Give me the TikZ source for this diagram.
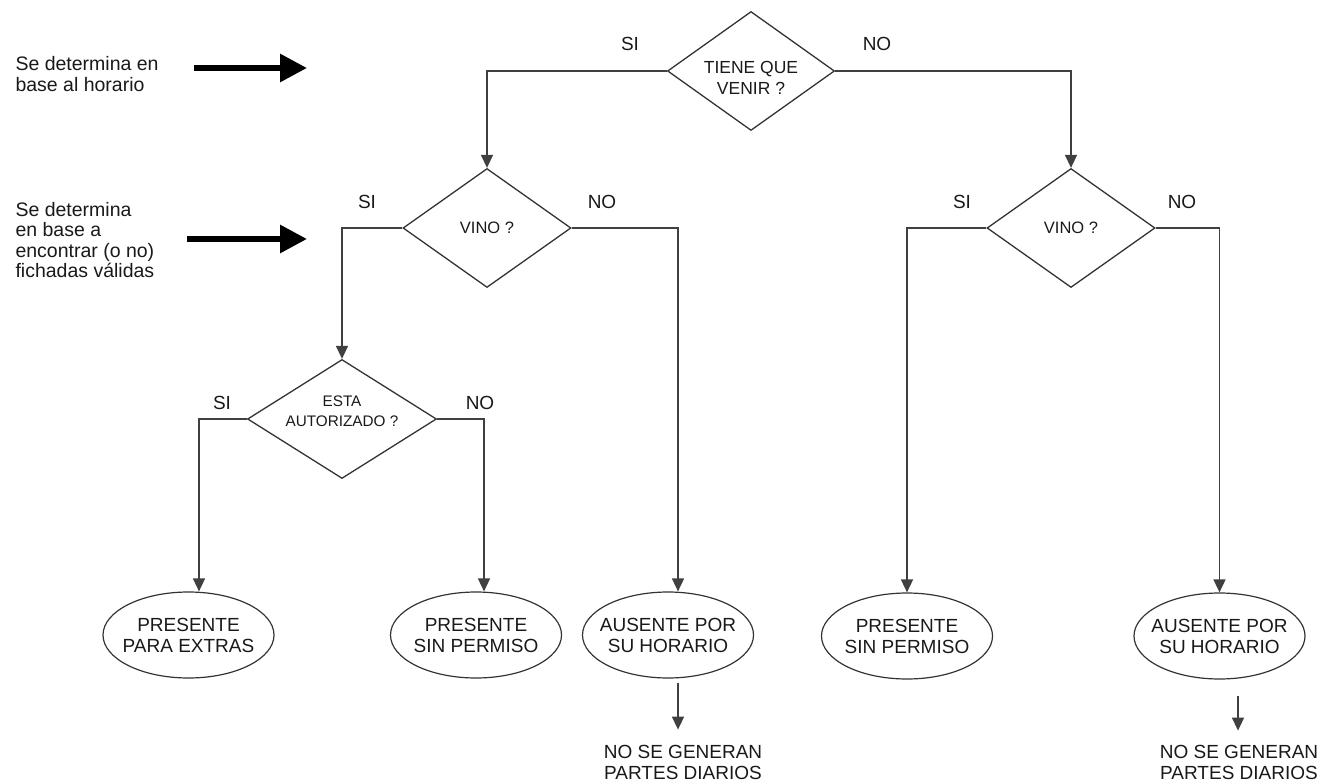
\documentclass[tikz,border=0pt]{standalone}
\usepackage{fontspec}
\setmainfont{Liberation Sans}
\usetikzlibrary{shapes.geometric,arrows.meta,calc}
\begin{document}
\begin{tikzpicture}[x=1pt,y=-1pt,
  every node/.style={font=\fontsize{19}{21}\selectfont, text=black!90},
  dec/.style={draw=black!80, line width=1.3pt, shape=diamond, inner sep=0pt, align=center},
  term/.style={draw=black!80, line width=1.2pt, ellipse, minimum width=171pt, minimum height=86pt, inner sep=0pt},
  intext/.style={align=center, font=\fontsize{19}{21}\selectfont, text=black!90},
  conn/.style={draw=black!75, line width=1.6pt},
  arr/.style={conn, -{Triangle[width=12pt,length=13pt]}},
  bigarr/.style={draw=black, line width=6pt, -{Triangle[width=27pt,length=27pt]}},
  note/.style={anchor=west, align=left, font=\fontsize{19.5}{20.5}\selectfont},
]
\useasboundingbox (0,0) rectangle (1327,783);

% decisions
\node[dec, minimum width=167pt, minimum height=119pt, label={[intext, font=\fontsize{17.5}{21}\selectfont, yshift=-7pt]center:TIENE QUE\\VENIR ?}] (d1) at (751,71) {};
\node[dec, minimum width=168pt, minimum height=119pt, aspect=1.4, font=\fontsize{16.5}{20}\selectfont] (v1) at (487,228) {VINO ?};
\node[dec, minimum width=168pt, minimum height=119pt, aspect=1.4, font=\fontsize{16.5}{20}\selectfont] (v2) at (1071,228) {VINO ?};
\node[dec, minimum width=189pt, minimum height=119pt, label={[intext, font=\fontsize{15.3}{20}\selectfont, yshift=8pt]center:ESTA\\AUTORIZADO ?}] (e1) at (342,419) {};

% terminals
\node[term, label={[intext]center:PRESENTE\\PARA EXTRAS}] (p1) at (188.5,635) {};
\node[term, label={[intext]center:PRESENTE\\SIN PERMISO}] (p2) at (476,635) {};
\node[term, label={[intext]center:AUSENTE POR\\SU HORARIO}] (a1) at (668,635) {};
\node[term, label={[intext]center:PRESENTE\\SIN PERMISO}] (p3) at (907,636) {};
\node[term, label={[intext]center:AUSENTE POR\\SU HORARIO}] (a2) at (1219.5,636) {};

% result texts
\node[align=center, font=\fontsize{19}{21}\selectfont] (n1) at (683,762) {NO SE GENERAN\\PARTES DIARIOS};
\node[align=center, font=\fontsize{19}{21}\selectfont] (n2) at (1239,762) {NO SE GENERAN\\PARTES DIARIOS};

% branch labels
\node (s0) at (630,44) {SI};
\node (o0) at (877,44) {NO};
\node (s1) at (367,202) {SI};
\node (o1) at (602,202) {NO};
\node (s2) at (962,202) {SI};
\node (o2) at (1182,202) {NO};
\node (s3) at (222,403) {SI};
\node (o3) at (480,403) {NO};

% connectors
\draw[arr] (d1.west) -| (v1.north);
\draw[arr] (d1.east) -| (v2.north);
\draw[arr] (v1.west) -| (e1.north);
\draw[arr] (v1.east) -| ($(a1.north)+(10,0)$);
\draw[arr] (e1.west) -| ($(p1.north)+(10.5,0)$);
\draw[arr] (e1.east) -| ($(p2.north)+(8,0)$);
\draw[arr] (v2.west) -| (p3.north);
\draw[arr] (v2.east) -| (a2.north);
\draw[arr] ($(a1.south)+(10,4)$) -- ($(a1.south)+(10,51)$);
\draw[arr] ($(a2.south)+(18.5,16)$) -- ($(a2.south)+(18.5,51)$);

% annotations
\node[note] (t1) at (12,74) {Se determina en\\base al horario};
\node[note] (t2) at (12,240) {Se determina\\en base a\\encontrar (o no)\\fichadas válidas};
\coordinate (b1s) at (194,68);
\coordinate (b1e) at (307,68);
\coordinate (b2s) at (187,239);
\coordinate (b2e) at (307,239);
\draw[bigarr] (b1s) -- (b1e);
\draw[bigarr] (b2s) -- (b2e);
\end{tikzpicture}
\end{document}
